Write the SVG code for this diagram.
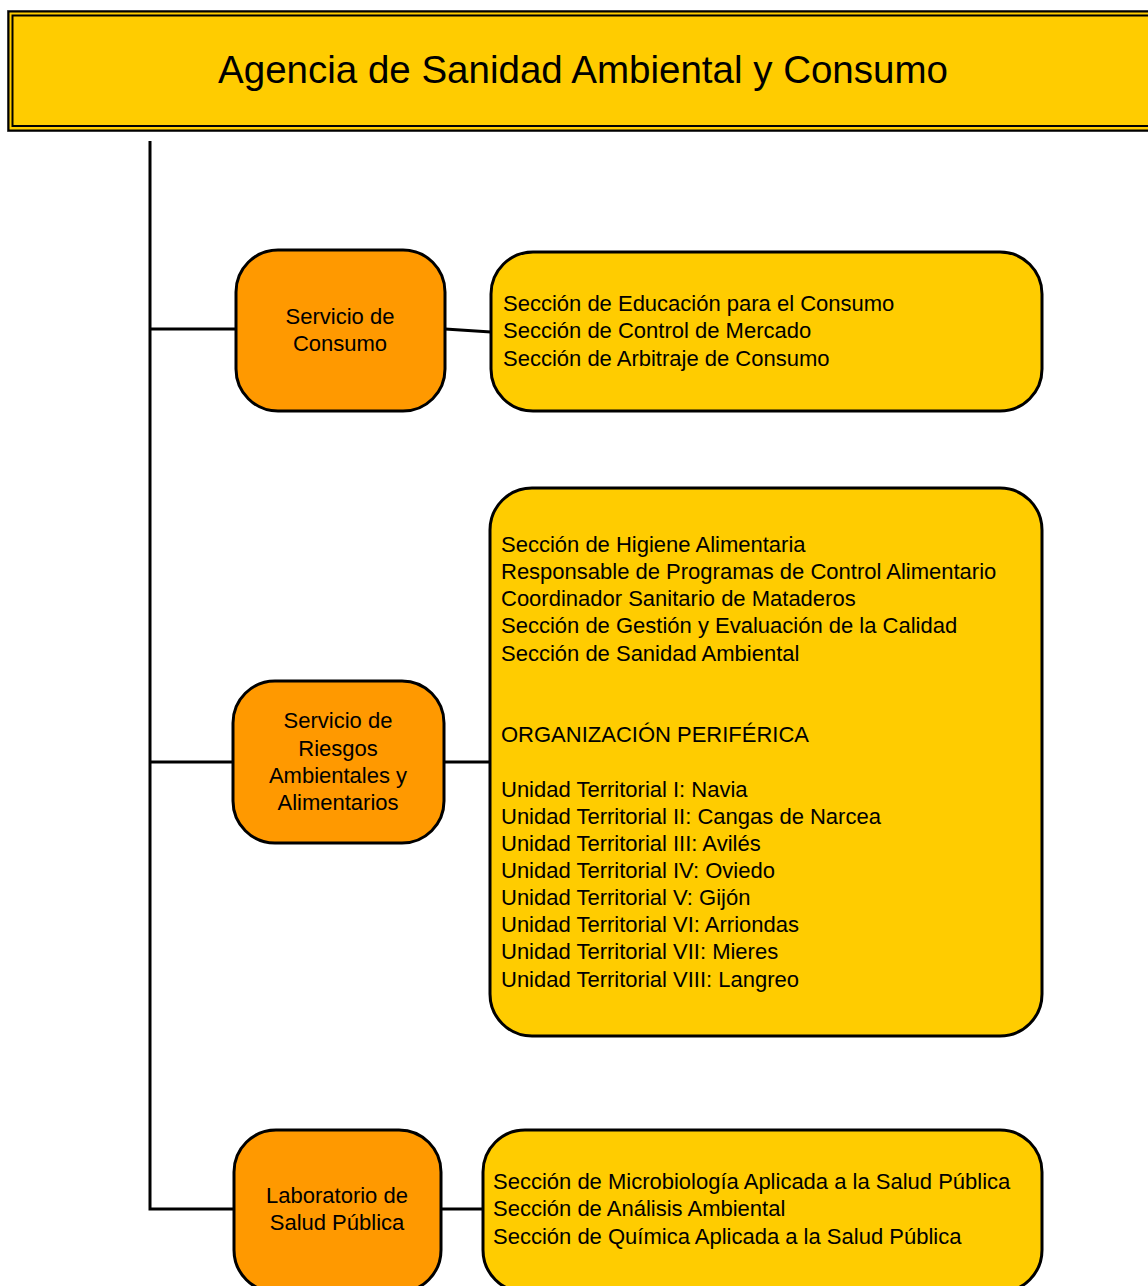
<svg xmlns="http://www.w3.org/2000/svg" width="1148" height="1286" viewBox="0 0 1148 1286">
<style>
text{font-family:"Liberation Sans",Arial,sans-serif;fill:#000}
.t{font-size:22px}
.c{text-anchor:middle}
.svc{fill:#FF9900;stroke:#000;stroke-width:3}
.sec{fill:#FFCC00;stroke:#000;stroke-width:3}
.ln{stroke:#000;stroke-width:3;fill:none}
</style>
<g id="agencia">
<rect x="7.5" y="10.5" width="1160" height="121" fill="#FFCC00" stroke="#777" stroke-width="1"/>
<rect x="8.5" y="11.5" width="1160" height="119" fill="none" stroke="#000" stroke-width="2"/>
<rect x="12.5" y="15.5" width="1160" height="110.5" fill="none" stroke="#000" stroke-width="2"/>
<text x="583" y="83" font-size="38.5" class="c">Agencia de Sanidad Ambiental y Consumo</text>
</g>
<g id="connectors">
<polyline class="ln" points="150,141 150,1209 234,1209"/>
<line class="ln" x1="150" y1="329" x2="236" y2="329"/>
<line class="ln" x1="150" y1="762" x2="233" y2="762"/>
<line class="ln" x1="445" y1="329" x2="491" y2="332"/>
<line class="ln" x1="444" y1="762" x2="490" y2="762"/>
<line class="ln" x1="441" y1="1209" x2="483" y2="1209"/>
</g>
<g id="servicio-consumo">
<rect class="svc" x="236" y="250" width="209" height="161" rx="42"/>
<text class="t c" x="340" y="324">Servicio de</text>
<text class="t c" x="340" y="351">Consumo</text>
</g>
<g id="secciones-consumo">
<rect class="sec" x="491" y="252" width="551" height="159" rx="42"/>
<text class="t" x="503" y="311">Sección de Educación para el Consumo</text>
<text class="t" x="503" y="338">Sección de Control de Mercado</text>
<text class="t" x="503" y="366">Sección de Arbitraje de Consumo</text>
</g>
<g id="servicio-riesgos">
<rect class="svc" x="233" y="681" width="211" height="162" rx="42"/>
<text class="t c" x="338" y="728">Servicio de</text>
<text class="t c" x="338" y="756">Riesgos</text>
<text class="t c" x="338" y="783">Ambientales y</text>
<text class="t c" x="338" y="810">Alimentarios</text>
</g>
<g id="secciones-riesgos">
<rect class="sec" x="490" y="488" width="552" height="548" rx="42"/>
<text class="t" x="501" y="552">Sección de Higiene Alimentaria</text>
<text class="t" x="501" y="579">Responsable de Programas de Control Alimentario</text>
<text class="t" x="501" y="606">Coordinador Sanitario de Mataderos</text>
<text class="t" x="501" y="633">Sección de Gestión y Evaluación de la Calidad</text>
<text class="t" x="501" y="661">Sección de Sanidad Ambiental</text>
<text class="t" x="501" y="742">ORGANIZACIÓN PERIFÉRICA</text>
<text class="t" x="501" y="797">Unidad Territorial I: Navia</text>
<text class="t" x="501" y="824">Unidad Territorial II: Cangas de Narcea</text>
<text class="t" x="501" y="851">Unidad Territorial III: Avilés</text>
<text class="t" x="501" y="878">Unidad Territorial IV: Oviedo</text>
<text class="t" x="501" y="905">Unidad Territorial V: Gijón</text>
<text class="t" x="501" y="932">Unidad Territorial VI: Arriondas</text>
<text class="t" x="501" y="959">Unidad Territorial VII: Mieres</text>
<text class="t" x="501" y="987">Unidad Territorial VIII: Langreo</text>
</g>
<g id="laboratorio">
<rect class="svc" x="234" y="1130" width="207" height="162" rx="42"/>
<text class="t c" x="337" y="1203">Laboratorio de</text>
<text class="t c" x="337" y="1230">Salud Pública</text>
</g>
<g id="secciones-laboratorio">
<rect class="sec" x="483" y="1130" width="559" height="162" rx="42"/>
<text class="t" x="493" y="1189">Sección de Microbiología Aplicada a la Salud Pública</text>
<text class="t" x="493" y="1216">Sección de Análisis Ambiental</text>
<text class="t" x="493" y="1244">Sección de Química Aplicada a la Salud Pública</text>
</g>
</svg>
